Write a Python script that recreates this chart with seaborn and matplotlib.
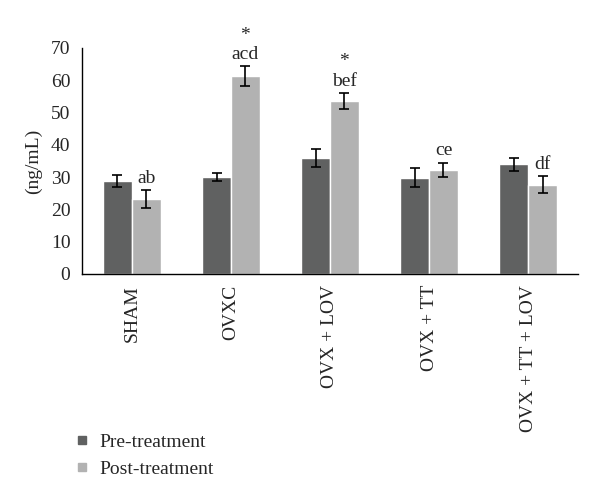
import numpy as np
import pandas as pd
import matplotlib
matplotlib.use("Agg")
import matplotlib.pyplot as plt
import seaborn as sns
from matplotlib.ticker import FixedLocator, NullFormatter
from matplotlib.lines import Line2D

groups = ["SHAM", "OVXC", "OVX + LOV", "OVX + TT", "OVX + TT + LOV"]
pre_vals = [28.8, 30.1, 35.9, 29.8, 34.0]
post_vals = [23.2, 61.3, 53.6, 32.3, 27.6]
pre_err = [1.9, 1.3, 2.7, 3.0, 2.0]
post_err = [2.8, 3.0, 2.5, 2.2, 2.6]
post_labels = ["ab", "acd", "bef", "ce", "df"]
post_star = [False, True, True, False, False]
series = ["Pre-treatment", "Post-treatment"]
colors = ["#606161", "#b2b2b2"]

df = pd.DataFrame({
    "group": groups * 2,
    "series": [series[0]] * 5 + [series[1]] * 5,
    "value": pre_vals + post_vals,
    "err": pre_err + post_err,
})

sns.set_style("white")
plt.rcParams["font.family"] = ["Liberation Serif", "DejaVu Serif"]

fig = plt.figure(figsize=(6, 4.99), dpi=100)
ax = fig.add_axes([0.137, 0.451, 0.826, 0.453])

sns.barplot(data=df, x="group", y="value", hue="series", order=groups,
            hue_order=series, palette=colors, width=0.58, errorbar=None,
            saturation=1, ax=ax, legend=False)

# error bars on top of each patch
for i, s in enumerate(series):
    cont = ax.containers[i]
    sub = df[df.series == s].set_index("group").loc[groups]
    xs = [p.get_x() + p.get_width() / 2 for p in cont.patches]
    ax.errorbar(xs, sub["value"], yerr=sub["err"], fmt="none",
                ecolor="black", elinewidth=1.2, capsize=3.5, capthick=1.2)
    if s == series[1]:
        for x, v, e, lab, star in zip(xs, sub["value"], sub["err"],
                                      post_labels, post_star):
            ax.text(x, v + e + 1.0, lab, ha="center", va="bottom", fontsize=14)
            if star:
                ax.text(x, v + e + 7.0, "*", ha="center", va="bottom", fontsize=14)

ax.set_ylim(0, 70)
ax.set_xlim(-0.5, 4.5)
ax.set_yticks(range(0, 71, 10))
ax.set_ylabel("(ng/mL)", fontsize=14, labelpad=6)
ax.set_xlabel("")

# category boundaries as major ticks, labels at centers
ax.xaxis.set_major_locator(FixedLocator(np.arange(-0.5, 5, 1)))
ax.xaxis.set_major_formatter(NullFormatter())
ax.xaxis.set_minor_locator(FixedLocator(np.arange(0, 5)))
ax.set_xticklabels(groups, minor=True, rotation=90, va="top", fontsize=14)
ax.tick_params(axis="x", which="major", direction="out", length=5, width=1, color="black")
ax.tick_params(axis="x", which="minor", length=0, pad=8)
ax.tick_params(axis="y", direction="out", length=5, width=1, color="black", labelsize=14)

sns.despine(ax=ax)
for sp in ["left", "bottom"]:
    ax.spines[sp].set_color("black")
    ax.spines[sp].set_linewidth(1)

handles = [Line2D([], [], marker="s", linestyle="none", markersize=6,
                  markerfacecolor=c, markeredgecolor=c) for c in colors]
fig.legend(handles, series, loc="lower left", bbox_to_anchor=(0.097, 0.008),
           frameon=False, fontsize=14, handlelength=0.6, handletextpad=0.6,
           labelspacing=0.45)

fig.savefig("out.png", dpi=100)
